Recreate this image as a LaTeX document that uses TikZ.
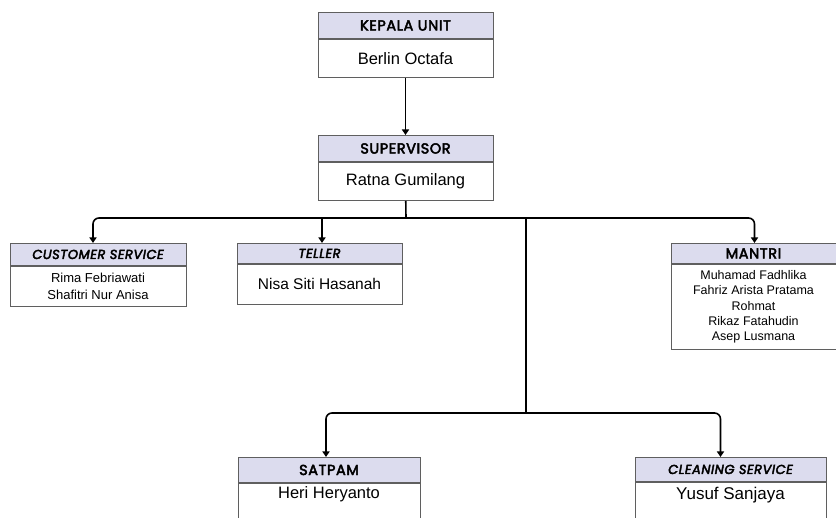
\documentclass[tikz,border=0pt]{standalone}
\usepackage{fontspec}
\setmainfont{Liberation Sans}
\newfontfamily\headfont{Poppins}[FakeBold=3.2, LetterSpace=4]
\usetikzlibrary{positioning,arrows.meta}
\definecolor{headfill}{RGB}{220,220,238}
\definecolor{boxline}{RGB}{95,95,95}

\tikzset{
    head/.style={draw=boxline, fill=headfill, line width=0.9pt, inner sep=0pt, anchor=north,
        font=\headfont\fontsize{13}{14}\selectfont},
    bighead/.style={head, font=\headfont\fontsize{14.5}{16}\selectfont},
    body/.style={draw=boxline, fill=white, line width=0.9pt, inner sep=0pt, align=center},
    conn/.style={line width=1.6pt, rounded corners=6pt},
    tip/.style={conn, -{Triangle[width=7pt,length=5.5pt]}}
}

\begin{document}
\begin{tikzpicture}[x=1pt, y=-1pt]
    \clip (0,0) rectangle (836,518);
    \fill[white] (0,0) rectangle (836,518);

    \node[bighead, minimum width=175pt, minimum height=26pt] (kepalaHd) at (405.5,12) {KEPALA UNIT};
    \node[body, minimum width=175pt, minimum height=38pt, below=0pt of kepalaHd,
        font=\fontsize{16.5}{20}\selectfont] (kepala) {Berlin Octafa};

    \node[bighead, minimum width=175pt, minimum height=26pt] (supHd) at (405.5,135) {SUPERVISOR};
    \node[body, minimum width=175pt, minimum height=38pt, below=0pt of supHd,
        font=\fontsize{16.5}{20}\selectfont] (sup) {Ratna Gumilang};

    \node[head, minimum width=176pt, minimum height=22pt] (csHd) at (98,243) {\itshape CUSTOMER SERVICE};
    \node[body, minimum width=176pt, minimum height=40pt, below=0pt of csHd,
        font=\fontsize{13}{16.5}\selectfont] (cs) {Rima Febriawati\\Shafitri Nur Anisa};

    \node[head, minimum width=165pt, minimum height=20pt] (tellerHd) at (319.5,243) {\itshape TELLER};
    \node[body, minimum width=165pt, minimum height=40pt, below=0pt of tellerHd,
        font=\fontsize{15.5}{18}\selectfont] (teller) {Nisa Siti Hasanah};

    \node[bighead, minimum width=165pt, minimum height=20pt] (mantriHd) at (753.5,243) {MANTRI};
    \node[body, minimum width=165pt, minimum height=85pt, below=0pt of mantriHd,
        font=\fontsize{12.5}{15.3}\selectfont] (mantri)
        {Muhamad Fadhlika\\Fahriz Arista Pratama\\Rohmat\\Rikaz Fatahudin\\Asep Lusmana};

    \node[bighead, minimum width=182pt, minimum height=25pt] (satpamHd) at (329,457) {SATPAM};
    \node[body, minimum width=182pt, inner ysep=3.5pt, below=0pt of satpamHd,
        font=\fontsize{16.5}{20}\selectfont, text depth=40pt] (satpam) {Heri Heryanto};

    \node[head, minimum width=191pt, minimum height=24pt] (cleanHd) at (730.5,457) {\itshape CLEANING SERVICE};
    \node[body, minimum width=191pt, inner ysep=4.5pt, below=0pt of cleanHd,
        font=\fontsize{17}{20}\selectfont, text depth=40pt] (clean) {Yusuf Sanjaya};

    \coordinate (split) at (406,218);
    \coordinate (drop) at (526,218);
    \coordinate (split2) at (526,413);
    \coordinate (tellerIn) at ([xshift=2.5pt]tellerHd.north);

    \draw[tip] (kepala) -- (supHd);
    \draw[conn] (sup) -- (split);
    \draw[tip] (split) -| ([xshift=-5pt]csHd.north);
    \draw[tip] (split) -| ([xshift=1pt]mantriHd.north);
    \draw[tip] (split -| tellerIn) -- (tellerIn);
    \draw[conn] (drop) -- (split2);
    \draw[tip] (split2) -| ([xshift=-3pt]satpamHd.north);
    \draw[tip] (split2) -| ([xshift=-10pt]cleanHd.north);
\end{tikzpicture}
\end{document}
